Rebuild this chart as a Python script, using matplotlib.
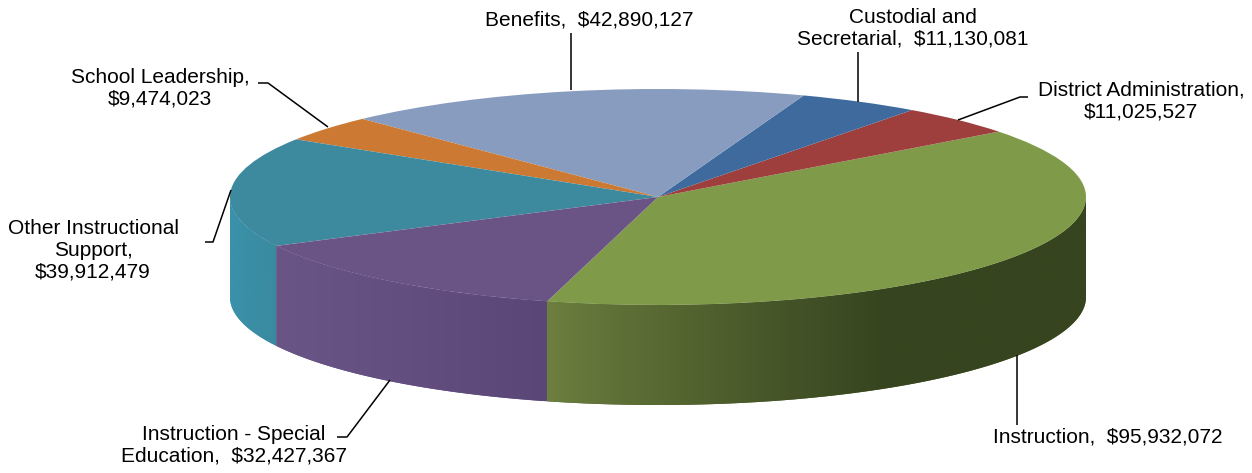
import numpy as np
import matplotlib
matplotlib.use("Agg")
import matplotlib.pyplot as plt
from matplotlib.colors import to_rgb
from matplotlib.patches import Polygon

# ---- data (pie order, counter-clockwise from the front) ----
categories = ["Instruction", "District Administration", "Custodial and Secretarial",
              "Benefits", "School Leadership", "Other Instructional Support",
              "Instruction - Special Education"]
values = [95932072, 11025527, 11130081, 42890127, 9474023, 39912479, 32427367]
label_texts = ["Instruction,  $95,932,072",
               "District Administration,\n$11,025,527",
               "Custodial and\nSecretarial,  $11,130,081",
               "Benefits,  $42,890,127",
               "School Leadership,\n$9,474,023",
               "Other Instructional\nSupport,\n$39,912,479",
               "Instruction - Special\nEducation,  $32,427,367"]
top_colors = ["#7F9B4A", "#9E3F3D", "#3E6A9D", "#889CC0", "#CC7A33", "#3D8A9F", "#6A5486"]
side_light = ["#6D803F", "#8A3534", "#355C88", "#7788AA", "#B56A2B", "#3A92AA", "#6A5587"]
side_dark = ["#36441F", "#6E2A29", "#2A4A70", "#5F6E8C", "#8F5423", "#3A8A9F", "#5B4777"]

# ---- geometry (pixel layout of reference) ----
W, H = 1252, 473
CX, CY, RX, RY = 658, 197, 428, 108
DEPTH = 100 / RY
START = 255.0

def px(x, y):
    return (x - CX) / RX, (CY - y) / RY

fig = plt.figure(figsize=(W / 100, H / 100), dpi=100)
ax = fig.add_axes([0, 0, 1, 1])

total = float(sum(values))
bounds = START + 360 * np.concatenate([[0], np.cumsum(values)]) / total

# ---- side walls (front half only), gradient shading clipped to wall ----
for i in range(len(values)):
    a0, a1 = bounds[i], bounds[i + 1]
    for off in (-360, 0, 360):
        lo = max(a0 + off, 180)
        hi = min(a1 + off, 360)
        if hi <= lo:
            continue
        ts = np.radians(np.linspace(lo, hi, 200))
        cl, cd = np.array(to_rgb(side_light[i])), np.array(to_rgb(side_dark[i]))
        bx = np.concatenate([np.cos(ts), np.cos(ts[::-1])])
        by = np.concatenate([np.sin(ts), np.sin(ts[::-1]) - DEPTH])
        base = Polygon(np.column_stack([bx, by]), closed=True,
                       fc=0.5 * (cl + cd), ec="none", zorder=1)
        ax.add_patch(base)
        xmin, xmax = bx.min(), bx.max()
        xs = np.linspace(xmin, xmax, 400)
        if i == 0:
            f = np.clip((xs - xmin) / 0.8, 0, 1) ** 0.85
        else:
            f = (xs - xmin) / max(xmax - xmin, 1e-6)
        grad = cl[None, :] * (1 - f[:, None]) + cd[None, :] * f[:, None]
        im = ax.imshow(grad[None, :, :], extent=(xmin, xmax, by.min(), by.max()),
                       aspect="auto", interpolation="bilinear", zorder=1.1, origin="lower")
        im.set_clip_path(base)

# ---- top face ----
wedges, _ = ax.pie(values, colors=top_colors, startangle=START, counterclock=True,
                   radius=1.0, center=(0, 0), wedgeprops=dict(linewidth=0, zorder=2))
ax.set_aspect("auto")
ax.set_xlim(-CX / RX, (W - CX) / RX)
ax.set_ylim((CY - H) / RY, CY / RY)
ax.axis("off")

# ---- labels with leader lines (pixel layout) ----
label_pos = [(1108, 437), (1141, 101), (913, 28), (589, 20), (160, 88), (93, 250), (234, 445)]
leaders = [
    [(1017, 425), (1017, 355)],
    [(1028, 97), (1020, 97), (958, 120)],
    [(858, 52), (858, 102)],
    [(571, 33), (571, 90)],
    [(258, 83), (268, 83), (328, 127)],
    [(205, 242), (213, 242), (231, 190)],
    [(337, 437), (347, 437), (390, 380)],
]
for txt, (lx, ly), pts in zip(label_texts, label_pos, leaders):
    x, y = px(lx, ly)
    ax.text(x, y, txt, ha="center", va="center", fontsize=15,
            family=["Liberation Sans", "DejaVu Sans"], color="black",
            linespacing=1.2, zorder=5)
    xs_, ys_ = zip(*[px(a, b) for a, b in pts])
    ax.plot(xs_, ys_, color="black", lw=1.1, zorder=4, solid_capstyle="butt")

fig.savefig("out.png", dpi=100, facecolor="white")
